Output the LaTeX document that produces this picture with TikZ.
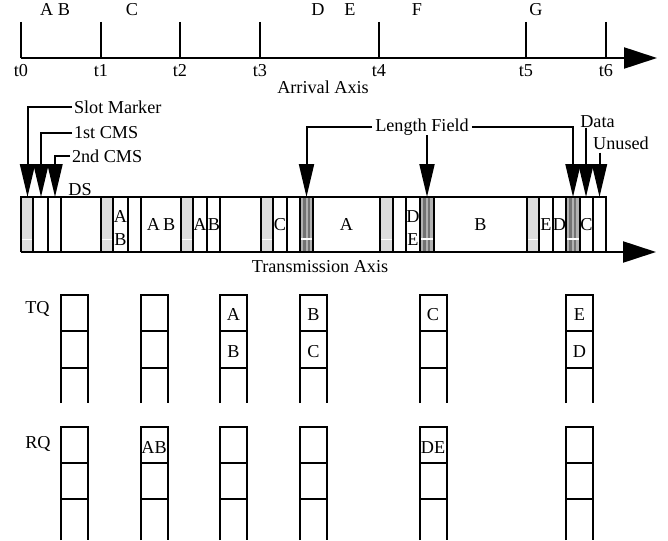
\documentclass[tikz,border=0pt]{standalone}
\usepackage{fontspec}
\setmainfont{Liberation Serif}
\usetikzlibrary{arrows.meta}
\begin{document}
\begin{tikzpicture}[x=0.5pt, y=-0.5pt,
  every node/.style={font=\fontsize{9.1}{11}\selectfont, inner sep=0pt},
  lbl/.style={anchor=base},
  tag/.style={anchor=west, outer xsep=1pt},
  axis/.style={line width=1.1pt, -{Triangle[length=16.5pt, width=10.5pt]}},
  callout/.style={line width=1pt, -{Triangle[length=16.5pt, width=7.5pt]}},
  frame/.style={line width=1pt},
  queue/.style={line width=0.9pt},
  marker/.style={fill=gray!27},
  lenfield/.style={fill=gray!60}
]
  \useasboundingbox (0,0) rectangle (668,540);

  % arrival axis
  \coordinate (arr-s) at (21,58);
  \coordinate (arr-e) at (657,58);
  \draw[axis] (arr-s) -- (arr-e);
  \foreach \x/\n in {21/0, 101/1, 180/2, 260/3, 379/4, 526/5, 606/6} {
    \draw[frame] (\x,22) -- (\x,58);
    \node[lbl] (t\n) at (\x,76) {t\n};
  }
  \node[lbl] (arr-lbl) at (323,94) {Arrival Axis};
  \foreach \x/\t/\n in {55/A B/ab, 132/C/c, 318/D/d, 350/E/e, 417/F/f, 536/G/g}
    \node[lbl] (in-\n) at (\x,16) {\t};

  % slot markers and length fields
  \foreach \a/\b in {21/33, 101/113, 181/193, 261/273, 380/393, 527/539} {
    \fill[marker] (\a,197) rectangle (\b,252);
    \draw[white, line width=0.4pt] (\a,239) -- (\b,239);
  }
  \foreach \a in {300, 420, 566} {
    \fill[lenfield] (\a,197) rectangle (\a+13.5,252);
    \draw[black!55, line width=1.2pt] (\a+4.5,197) -- (\a+4.5,252)
      (\a+9,197) -- (\a+9,252);
    \draw[white, line width=0.6pt] (\a,239) -- (\a+13.5,239);
  }

  % transmission frame
  \draw[frame] (21,252) -- (21,197) -- (606,197) -- (606,252);
  \foreach \x in {33,48,61,101,113,128,141,181,193,207,220,261,273,287,300,
                  313,380,393,406,420,434,527,539,553,566,580,593}
    \draw[frame] (\x,197) -- (\x,252);
  \coordinate (tx-s) at (21,252);
  \coordinate (tx-e) at (656,252);
  \draw[axis] (tx-s) -- (tx-e);
  \node[lbl] (tx-lbl) at (320,272) {Transmission Axis};

  \foreach \x/\y/\t/\n in {120.5/222/A/1, 120.5/245/B/2, 161/230/A\,B/3,
      200/230/A/4, 214/230/B/5, 280/230/C/6, 346.5/230/A/7, 413/222/D/8,
      413/245/E/9, 480.5/230/B/10, 546/230/E/11, 559.5/230/D/12, 586.5/230/C/13}
    \node[lbl] (fd-\n) at (\x,\y) {\t};

  % callouts
  \node[tag] (slotmk) at (72,107) {Slot Marker};
  \node[tag] (cms1) at (72,133) {1st CMS};
  \node[tag] (cms2) at (70,156) {2nd CMS};
  \node[lbl] (ds) at (80,195) {DS};
  \coordinate (f-sm) at (27.5,197);
  \coordinate (f-c1) at (41,197);
  \coordinate (f-c2) at (55,197);
  \draw[callout] (slotmk.west) -| (f-sm);
  \draw[callout] (cms1.west) -| (f-c1);
  \draw[callout] (cms2.west) -| (f-c2);

  \node[lbl, outer xsep=1.5pt] (lenfld) at (422,131) {Length Field};
  \coordinate (f-l1) at (306.5,197);
  \coordinate (f-l2) at (427,197);
  \coordinate (f-l3) at (573,197);
  \draw[callout] (lenfld.west) -| (f-l1);
  \draw[callout] (lenfld.south -| f-l2) -- (f-l2);
  \draw[callout] (lenfld.east) -| (f-l3);

  \node[lbl] (data) at (597.5,127) {Data};
  \node[lbl] (unused) at (621,149) {Unused};
  \coordinate (f-dt) at (586,197);
  \coordinate (f-un) at (599.5,197);
  \draw[callout] (data.south -| f-dt) -- (f-dt);
  \draw[callout] ([yshift=-1.5pt]unused.south -| f-un) -- (f-un);

  % queues
  \node[lbl] (tq) at (37.5,313) {TQ};
  \node[lbl] (rq) at (38,448) {RQ};
  \foreach \x in {61,141,220,300,420,566} {
    \draw[queue] (\x,403) -- (\x,295) -- (\x+27,295) -- (\x+27,403)
      (\x,331) -- (\x+27,331) (\x,368) -- (\x+27,368);
    \draw[queue] (\x,540) -- (\x,427) -- (\x+27,427) -- (\x+27,540)
      (\x,463) -- (\x+27,463) (\x,499) -- (\x+27,499);
  }
  \foreach \x/\y/\t/\n in {233.5/320/A/1, 233.5/357/B/2, 313.5/320/B/3,
      313.5/357/C/4, 433/320/C/5, 579.5/320/E/6, 579.5/357/D/7}
    \node[lbl] (tq-\n) at (\x,\y) {\t};
  \node[lbl] (rq-1) at (154,453) {AB};
  \node[lbl] (rq-2) at (433,453) {DE};
\end{tikzpicture}
\end{document}
